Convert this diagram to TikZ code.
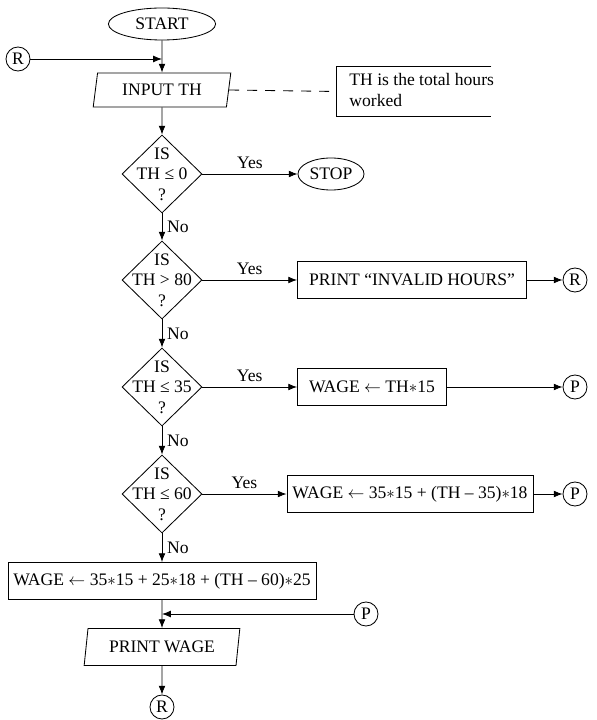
\documentclass[tikz,border=0pt]{standalone}
\usepackage{fontspec}
\setmainfont{Liberation Serif}
\usetikzlibrary{shapes.geometric,arrows.meta}
\tikzset{
  terminal/.style={draw,ellipse,inner sep=0pt},
  joint/.style={draw,circle,inner sep=0pt,minimum size=0.6cm},
  io/.style={draw,trapezium,trapezium left angle=77,trapezium right angle=103,
    trapezium stretches=true,inner sep=0pt},
  process/.style={draw,rectangle,inner sep=0pt,minimum height=0.925cm},
  decision/.style={draw,diamond,inner sep=0pt,minimum width=2cm,minimum height=1.95cm},
  dtext/.style={align=center,inner sep=0pt}
}

\begin{document}
\begin{tikzpicture}[x=0.025cm,y=-0.025cm,font=\fontsize{12.5}{14.5}\selectfont,
  line width=0.6pt,>={Latex[length=2.2mm,width=1.7mm]}]
  \useasboundingbox (0,0) rectangle (596,720);
  \node[terminal,minimum width=2.68cm,minimum height=0.8cm] (start) at (162,24) {START};
  \node[joint] (rtop) at (18,59) {R};
  \node[io,minimum width=3.45cm,minimum height=0.85cm] (input) at (162,90) {INPUT TH};
  \node[minimum width=3.85cm,minimum height=1.225cm,inner sep=0pt] (notebox) at (414,91.5) {};
  \node[anchor=west,align=left,inner sep=0pt] (notetext) at (349,90) {TH is the total hours\\worked};
  \draw (notebox.north east) -- (notebox.north west) -- (notebox.south west) -- (notebox.south east);
  \draw[dashed,dash pattern=on 0.25cm off 0.2cm] (input.east) -- (notebox.west);

  \node[decision] (d1) at (162,174) {};
  \node[dtext] (d1t) at (d1) {IS\\TH ≤ 0\\?};
  \node[terminal,minimum width=1.65cm,minimum height=0.8cm] (stop) at (331,174) {STOP};

  \node[decision] (d2) at (162,280) {};
  \node[dtext] (d2t) at (d2) {IS\\TH > 80\\?};
  \node[process,minimum width=5.725cm] (invalid) at (412,280) {PRINT “INVALID HOURS”};
  \node[joint] (rmid) at (575,280) {R};

  \node[decision] (d3) at (162,387) {};
  \node[dtext] (d3t) at (d3) {IS\\TH ≤ 35\\?};
  \node[process,minimum width=3.725cm] (wage1) at (372,387) {WAGE $\leftarrow$ TH$*$15};
  \node[joint] (pa) at (575,387) {P};

  \node[decision] (d4) at (162,494) {};
  \node[dtext] (d4t) at (d4) {IS\\TH ≤ 60\\?};
  \node[process,minimum width=6.15cm] (wage2) at (410,494) {WAGE $\leftarrow$ 35$*$15 + (TH – 35)$*$18};
  \node[joint] (pb) at (575,494) {P};

  \node[process,minimum width=7.7cm] (wage3) at (162,581) {WAGE $\leftarrow$ 35$*$15 + 25$*$18 + (TH – 60)$*$25};
  \node[joint] (pc) at (366,614) {P};
  \node[io,minimum width=3.9cm,minimum height=0.925cm] (printw) at (162,647) {PRINT WAGE};
  \node[joint] (rbot) at (162,707) {R};

  % main flow
  \draw[->] (start) -- (input);
  \draw[->] (rtop) -- (rtop -| start);
  \draw[->] (input) -- (d1);
  \draw[->] (d1) -- node[above]{Yes} (stop);
  \draw[->] (d1) -- node[right]{No} (d2);
  \draw[->] (d2) -- node[above]{Yes} (invalid);
  \draw[->] (invalid) -- (rmid);
  \draw[->] (d2) -- node[right]{No} (d3);
  \draw[->] (d3) -- node[above]{Yes} (wage1);
  \draw[->] (wage1) -- (pa);
  \draw[->] (d3) -- node[right]{No} (d4);
  \draw[->] (d4) -- node[above]{Yes} (wage2);
  \draw[->] (wage2) -- (pb);
  \draw[->] (d4) -- node[right]{No} (wage3);
  \draw[->] (wage3) -- (printw);
  \draw[->] (pc) -- (pc -| wage3);
  \draw[->] (printw) -- (rbot);
\end{tikzpicture}
\end{document}
